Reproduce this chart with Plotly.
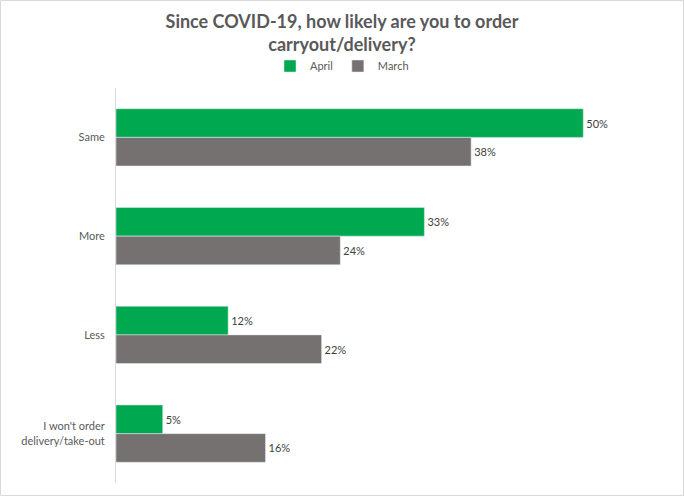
import plotly.graph_objects as go

categories = ["Same", "More", "Less", "I won't order<br>delivery/take-out"]
april = [50, 33, 12, 5]
march = [38, 24, 22, 16]
series_names = ["April", "March"]
colors = ["#00A84F", "#767171"]

W, H = 684, 496
L, R, T, B = 116, 54, 88, 13

fig = go.Figure()
for name, vals, col in zip(series_names, [april, march], colors):
    fig.add_trace(go.Bar(
        y=categories, x=vals, name=name, orientation="h",
        marker=dict(color=col),
        text=[f"{v}%" for v in vals], textposition="outside",
        textfont=dict(size=11, color="#404040"), cliponaxis=False,
    ))

pw = W - L - R
ph = H - T - B
fig.update_layout(
    width=W, height=H,
    margin=dict(l=L, r=R, t=T, b=B, autoexpand=False),
    paper_bgcolor="white", plot_bgcolor="white",
    font=dict(family="Lato, Open Sans, sans-serif", color="#595959", size=11),
    title=dict(text="<b>Since COVID-19, how likely are you to order<br>carryout/delivery?</b>",
               x=0.5, xanchor="center", xref="container",
               y=1 - 28 / H, yanchor="middle", yref="container",
               font=dict(size=18, color="#595959")),
    barmode="group", bargap=0.42, bargroupgap=0,
    showlegend=True,
    legend=dict(orientation="h", x=0.5, xanchor="center", xref="container",
                y=1 - 66 / H, yanchor="middle", yref="container",
                font=dict(size=11, color="#595959"), itemwidth=30,
                traceorder="normal"),
    xaxis=dict(range=[0, 55], showgrid=False, zeroline=False, showticklabels=False,
               showline=False, automargin=False),
    yaxis=dict(autorange="reversed", showgrid=False, zeroline=False,
               showline=True, linecolor="#D9D9D9", linewidth=1,
               ticks="", ticklabelstandoff=8, automargin=False,
               tickfont=dict(size=11, color="#595959")),
)
# outer chart border
fig.add_shape(type="rect", xref="paper", yref="paper",
              x0=(-L + 0.5) / pw, x1=(pw + R - 0.5) / pw,
              y0=(-B + 0.5) / ph, y1=(ph + T - 0.5) / ph,
              line=dict(color="#D9D9D9", width=1), layer="below")
fig.write_html(
    "out.html",
    config={"displayModeBar": False},
    post_script="document.body.style.margin='0';document.body.style.overflow='hidden';",
)
